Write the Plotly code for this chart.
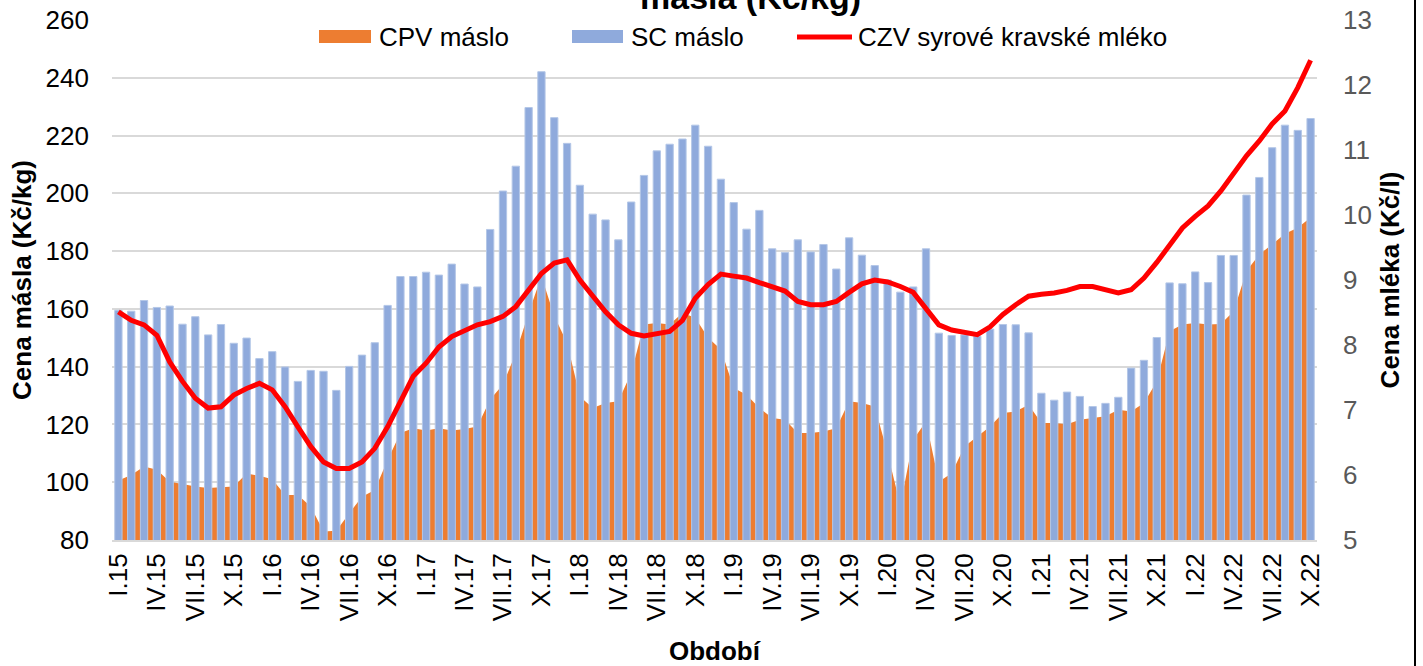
import plotly.graph_objects as go

# ---- data ----
months = ["I", "II", "III", "IV", "V", "VI", "VII", "VIII", "IX", "X", "XI", "XII"]
years = ["15", "16", "17", "18", "19", "20", "21", "22"]
periods = [f"{m}.{y}" for y in years for m in months][:94]
tick_labels = periods[::3]

cpv_maslo = [
    100.6, 102.5, 105.4, 104.3, 100.2, 99.4, 98.5, 98.0, 98.3, 98.5, 103.0, 102.2,
    101.0, 95.6, 95.6, 91.6, 82.9, 83.2, 89.2, 95.0, 97.3, 107.7, 117.0, 118.7,
    117.9, 118.7, 117.9, 118.4, 119.3, 128.6, 133.8, 144.7, 158.6, 171.3, 157.5, 148.2,
    129.7, 125.7, 127.4, 128.0, 137.8, 154.6, 155.1, 154.6, 158.6, 156.9, 150.0, 145.9,
    132.6, 130.3, 125.7, 122.2, 121.6, 117.0, 117.0, 117.6, 118.7, 128.0, 127.4, 126.2,
    110.0, 92.0, 114.7, 121.0, 100.2, 103.1, 112.4, 115.8, 119.3, 124.0, 124.5, 126.8,
    120.5, 120.5, 120.1, 121.6, 122.2, 122.8, 125.1, 124.5, 127.4, 134.9, 152.3, 154.6,
    155.1, 154.6, 154.8, 159.2, 173.1, 178.8, 182.3, 186.0, 188.1, 191.6,
]

sc_maslo = [
    159.5, 159.2, 162.9, 160.5, 161.0, 154.7, 157.3, 151.0, 154.6, 148.1, 149.9, 142.8,
    145.2, 139.9, 134.9, 138.7, 138.4, 131.8, 140.1, 144.0, 148.3, 161.2, 171.2, 171.2,
    172.7, 171.7, 175.5, 168.6, 167.6, 187.5, 200.8, 209.4, 229.7, 242.1, 226.2, 217.3,
    202.8, 192.8, 190.8, 183.9, 197.0, 206.2, 214.7, 217.0, 218.8, 223.6, 216.3, 204.9,
    196.8, 187.6, 194.1, 180.8, 179.5, 183.9, 179.7, 182.3, 173.8, 184.6, 178.6, 175.0,
    170.0, 165.8, 167.6, 180.8, 151.6, 150.8, 151.0, 150.5, 153.0, 154.6, 154.5, 151.7,
    130.8, 128.4, 131.2, 129.7, 126.2, 127.3, 129.4, 139.5, 142.2, 150.1, 169.0, 168.7,
    172.8, 169.1, 178.5, 178.5, 199.4, 205.5, 215.8, 223.6, 221.8, 225.9,
]

czv_mleko = [
    8.51, 8.38, 8.31, 8.15, 7.74, 7.44, 7.18, 7.03, 7.05, 7.23, 7.33, 7.41,
    7.31, 7.05, 6.74, 6.44, 6.20, 6.10, 6.10, 6.20, 6.41, 6.74, 7.13, 7.52,
    7.72, 7.97, 8.13, 8.23, 8.31, 8.36, 8.44, 8.59, 8.85, 9.10, 9.26, 9.31,
    9.00, 8.74, 8.51, 8.31, 8.18, 8.14, 8.17, 8.21, 8.38, 8.72, 8.93, 9.09,
    9.06, 9.03, 8.96, 8.89, 8.83, 8.67, 8.62, 8.62, 8.67, 8.81, 8.94, 9.00,
    8.97, 8.90, 8.81, 8.56, 8.31, 8.23, 8.19, 8.16, 8.28, 8.47, 8.62, 8.75,
    8.78, 8.80, 8.84, 8.90, 8.90, 8.84, 8.80, 8.85, 9.03, 9.27, 9.55, 9.80,
    9.98, 10.14, 10.37, 10.65, 10.91, 11.14, 11.40, 11.60, 11.96, 12.38,
]

ORANGE = "#ED7D31"
BLUE = "#8FAADC"
RED = "#FF0000"
FONT = "Liberation Sans"

# geometry (page pixels; the page's body margin is removed below)
W, H = 1423, 666
PLOT_L, PLOT_R, PLOT_T, PLOT_B = 112, 1317, 20, 540
ML, MR, MT, MB = PLOT_L, W - PLOT_R, PLOT_T, H - PLOT_B
PW, PH = PLOT_R - PLOT_L, PLOT_B - PLOT_T


def px_x(px):
    return (px - PLOT_L) / PW


def px_y(py):
    return (PLOT_B - py) / PH


fig = go.Figure()

fig.add_trace(go.Scatter(
    x=periods, y=cpv_maslo, name="CPV máslo", mode="none",
    fill="tozeroy", fillcolor=ORANGE, yaxis="y", showlegend=False,
))
fig.add_trace(go.Bar(
    x=periods, y=sc_maslo, name="SC máslo", yaxis="y2",
    marker=dict(color=BLUE, line=dict(color="#B4C7E7", width=1)),
    showlegend=False,
))
fig.add_trace(go.Scatter(
    x=periods, y=czv_mleko, name="CZV syrové kravské mléko", mode="lines",
    line=dict(color=RED, width=5), yaxis="y3", showlegend=False,
))

fig.update_layout(
    width=W, height=H,
    margin=dict(l=ML, r=MR, t=MT, b=MB, autoexpand=False),
    paper_bgcolor="white", plot_bgcolor="white",
    font=dict(family=FONT, size=26, color="#000000"),
    bargap=0.43,
    showlegend=False,
    xaxis=dict(
        type="category", range=[-0.5, len(periods) - 0.5],
        tickmode="array", tickvals=tick_labels, ticktext=tick_labels,
        tickangle=-90, tickfont=dict(size=26, color="#000000"),
        ticks="", showgrid=False, showline=True, linecolor="#D9D9D9", linewidth=2,
        ticklabelstandoff=1,
        title=dict(text="<b>Období</b>", font=dict(size=26), standoff=21),
        automargin=False,
    ),
    yaxis=dict(
        range=[80, 260], dtick=20, showgrid=True, gridcolor="#D9D9D9", gridwidth=2,
        zeroline=False, ticks="", tickfont=dict(size=26, color="#000000"),
        ticklabelstandoff=22, ticklabeloverflow="allow",
        title=dict(text="<b>Cena másla (Kč/kg)</b>", font=dict(size=26), standoff=6),
        automargin=False,
    ),
    yaxis2=dict(
        range=[80, 260], overlaying="y", visible=False, showgrid=False,
    ),
    yaxis3=dict(
        range=[5, 13], dtick=1, overlaying="y", side="right", showgrid=False,
        zeroline=False, ticks="", tickfont=dict(size=26, color="#595959"),
        ticklabelstandoff=25, ticklabeloverflow="allow",
        title=dict(text="<b>Cena mléka (Kč/l)</b>", font=dict(size=26), standoff=9),
        automargin=False,
    ),
)

# chart title (cut at top, as in reference)
fig.add_annotation(
    text="<b>másla (Kč/kg)</b>", xref="paper", yref="paper",
    x=px_x(750), y=px_y(-3), xanchor="center", yanchor="middle",
    showarrow=False, font=dict(size=34, color="#000000"),
)

# legend with wide swatches
leg_y = 37
fig.add_shape(type="rect", xref="paper", yref="paper",
              x0=px_x(319), x1=px_x(371), y0=px_y(30), y1=px_y(43),
              fillcolor=ORANGE, line=dict(width=0))
fig.add_shape(type="rect", xref="paper", yref="paper",
              x0=px_x(572), x1=px_x(623), y0=px_y(30), y1=px_y(43),
              fillcolor=BLUE, line=dict(width=0))
fig.add_shape(type="line", xref="paper", yref="paper",
              x0=px_x(797), x1=px_x(852), y0=px_y(leg_y), y1=px_y(leg_y),
              line=dict(color=RED, width=5))
for txt, xpx in [("CPV máslo", 377), ("SC máslo", 629), ("CZV syrové kravské mléko", 856)]:
    fig.add_annotation(text=txt, xref="paper", yref="paper",
                       x=px_x(xpx), y=px_y(leg_y), xanchor="left", yanchor="middle",
                       showarrow=False, font=dict(size=26, color="#000000"))

# right border line of the chart frame
fig.add_shape(type="line", xref="paper", yref="paper",
              x0=px_x(1415), x1=px_x(1415), y0=px_y(0), y1=px_y(H),
              line=dict(color="#000000", width=2))

fig.write_html(
    "out.html",
    config={"displayModeBar": False},
    post_script="document.body.style.margin='0px';document.body.style.overflow='hidden';",
)
